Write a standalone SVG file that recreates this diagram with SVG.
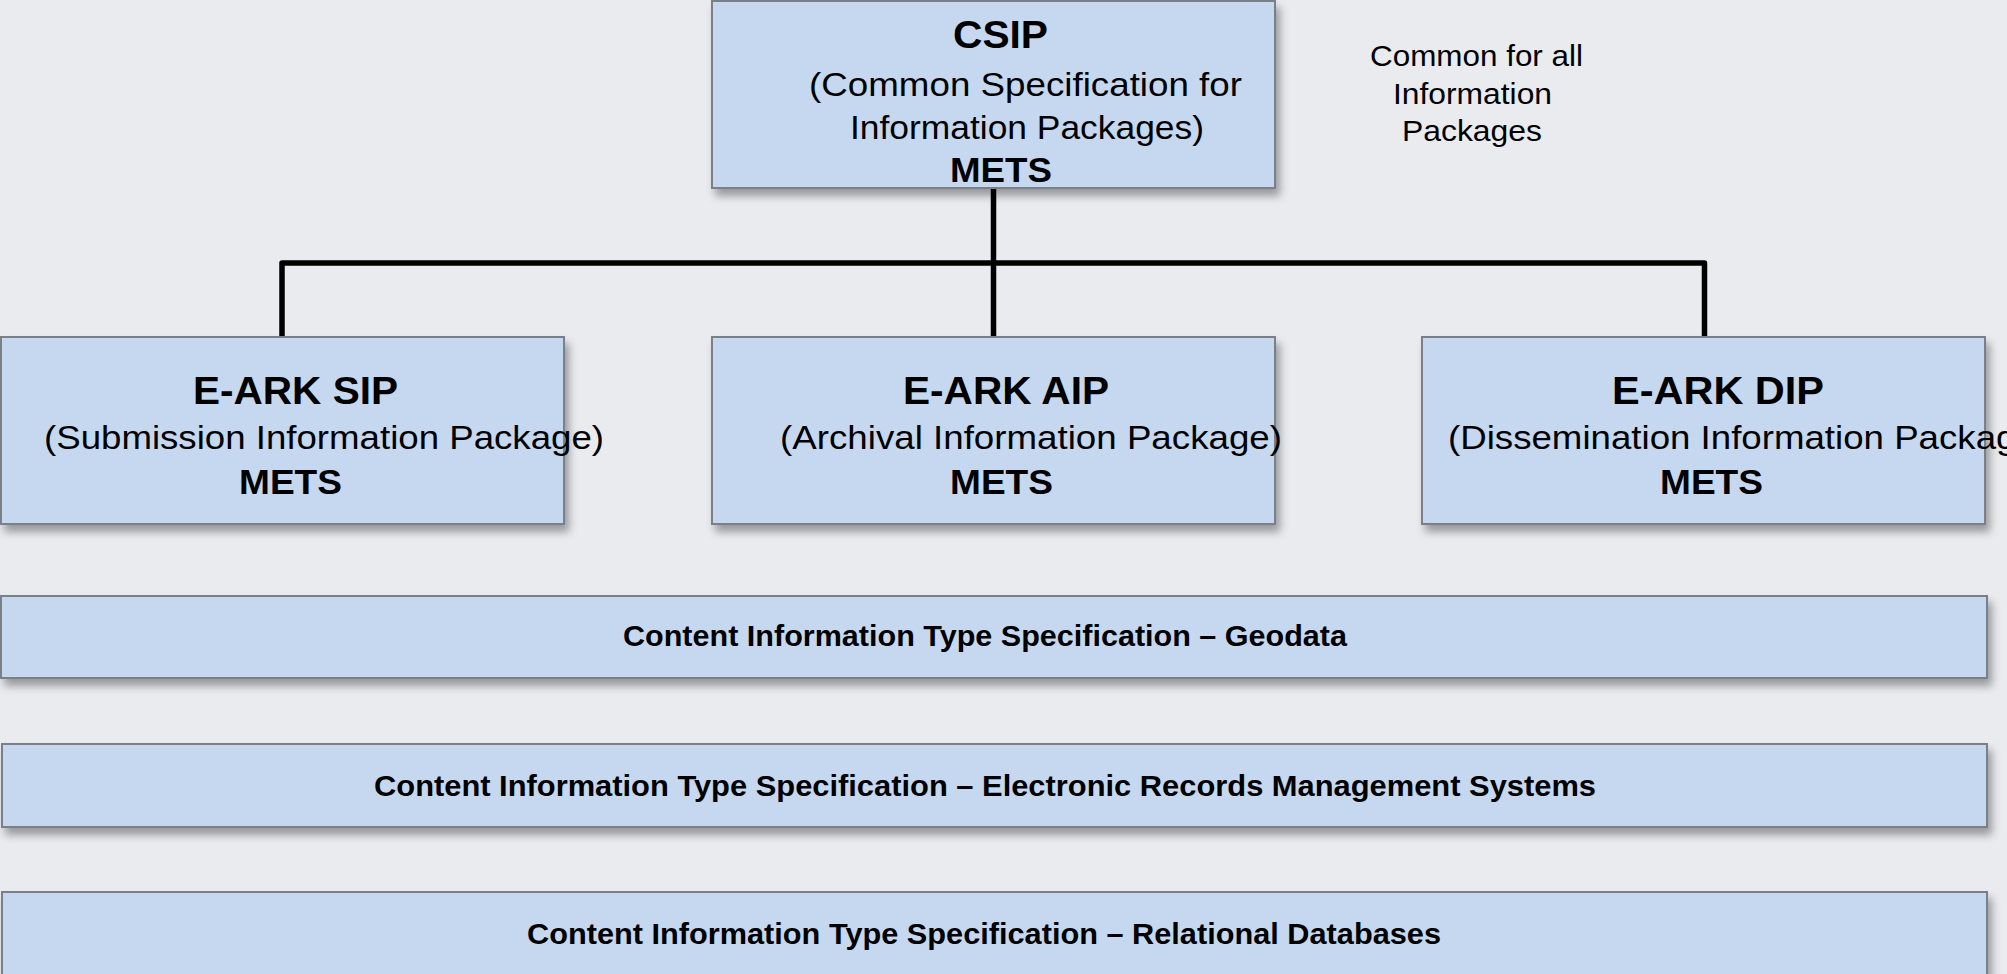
<svg xmlns="http://www.w3.org/2000/svg" width="2007" height="974" viewBox="0 0 2007 974">
<defs>
<filter id="sh" x="-5%" y="-10%" width="115%" height="130%">
<feDropShadow dx="4" dy="7" stdDeviation="4" flood-color="#000" flood-opacity="0.35"/>
</filter>
<style>
.box{fill:#C6D8EF;stroke:#7A7F88;stroke-width:2;filter:url(#sh)}
.t{font-family:"Liberation Sans",Arial,sans-serif;fill:#000}
.b{font-weight:bold}
.conn{fill:none;stroke:#000;stroke-width:5.5;stroke-linejoin:round;stroke-linecap:butt}
</style>
</defs>
<rect width="2007" height="974" fill="#E9EBEF"/>

<g id="connectors">
<path class="conn" d="M993.5 188 V337"/>
<path class="conn" d="M282 337 V263 H1704.5 V337"/>
</g>

<g id="csip">
<rect class="box" x="712" y="1" width="563" height="187"/>
<text class="t b" x="953" y="48" font-size="38" textLength="95" lengthAdjust="spacingAndGlyphs">CSIP</text>
<text class="t" x="809" y="96" font-size="33" textLength="433" lengthAdjust="spacingAndGlyphs">(Common Specification for</text>
<text class="t" x="850" y="139" font-size="33" textLength="354" lengthAdjust="spacingAndGlyphs">Information Packages)</text>
<text class="t b" x="950" y="182" font-size="35" textLength="102" lengthAdjust="spacingAndGlyphs">METS</text>
</g>

<g id="common-note">
<text class="t" x="1370" y="66" font-size="29" textLength="213" lengthAdjust="spacingAndGlyphs">Common for all</text>
<text class="t" x="1393" y="104" font-size="29" textLength="159" lengthAdjust="spacingAndGlyphs">Information</text>
<text class="t" x="1402" y="141" font-size="29" textLength="140" lengthAdjust="spacingAndGlyphs">Packages</text>
</g>

<g id="sip">
<rect class="box" x="1" y="337" width="563" height="187"/>
<text class="t b" x="193" y="404" font-size="38" textLength="205" lengthAdjust="spacingAndGlyphs">E-ARK SIP</text>
<text class="t" x="44" y="449" font-size="33" textLength="560" lengthAdjust="spacingAndGlyphs">(Submission Information Package)</text>
<text class="t b" x="239" y="494" font-size="35" textLength="103" lengthAdjust="spacingAndGlyphs">METS</text>
</g>

<g id="aip">
<rect class="box" x="712" y="337" width="563" height="187"/>
<text class="t b" x="903" y="404" font-size="38" textLength="206" lengthAdjust="spacingAndGlyphs">E-ARK AIP</text>
<text class="t" x="780" y="449" font-size="33" textLength="502" lengthAdjust="spacingAndGlyphs">(Archival Information Package)</text>
<text class="t b" x="950" y="494" font-size="35" textLength="103" lengthAdjust="spacingAndGlyphs">METS</text>
</g>

<g id="dip">
<rect class="box" x="1422" y="337" width="563" height="187"/>
<text class="t b" x="1612" y="404" font-size="38" textLength="212" lengthAdjust="spacingAndGlyphs">E-ARK DIP</text>
<text class="t" x="1448" y="449" font-size="33" textLength="601" lengthAdjust="spacingAndGlyphs">(Dissemination Information Package)</text>
<text class="t b" x="1660" y="494" font-size="35" textLength="103" lengthAdjust="spacingAndGlyphs">METS</text>
</g>

<g id="cit-geodata">
<rect class="box" x="1" y="596" width="1986" height="82"/>
<text class="t b" x="623" y="646" font-size="29" textLength="724" lengthAdjust="spacingAndGlyphs">Content Information Type Specification – Geodata</text>
</g>

<g id="cit-erms">
<rect class="box" x="2" y="744" width="1985" height="83"/>
<text class="t b" x="374" y="796" font-size="29" textLength="1222" lengthAdjust="spacingAndGlyphs">Content Information Type Specification – Electronic Records Management Systems</text>
</g>

<g id="cit-rdb">
<rect class="box" x="2" y="892" width="1985" height="100"/>
<text class="t b" x="527" y="944" font-size="29" textLength="914" lengthAdjust="spacingAndGlyphs">Content Information Type Specification – Relational Databases</text>
</g>
</svg>
